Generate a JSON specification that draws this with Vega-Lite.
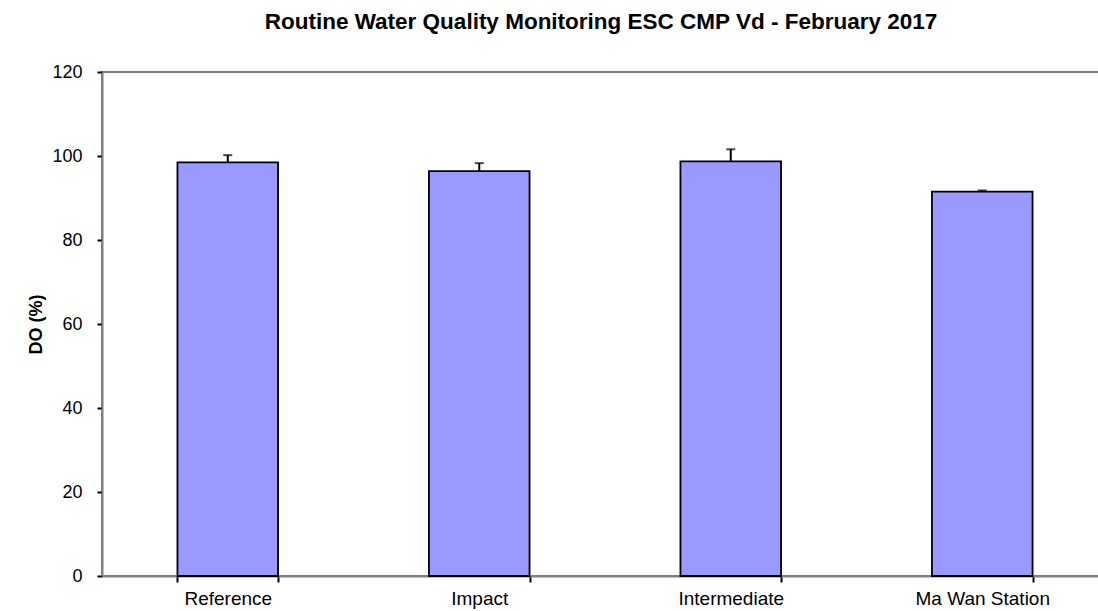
{
  "$schema": "https://vega.github.io/schema/vega-lite/v6.json",
  "autosize": "none",
  "padding": {"left": 102, "top": 72, "right": 0, "bottom": 35},
  "width": 1006,
  "height": 504,
  "background": "white",
  "config": {
    "font": "Liberation Sans",
    "view": {"stroke": "#808080", "strokeWidth": 2},
    "axis": {"grid": false, "labelFont": "Liberation Sans", "titleFont": "Liberation Sans"}
  },
  "title": {
    "text": "Routine Water Quality Monitoring ESC CMP Vd - February 2017",
    "fontSize": 22.5,
    "fontWeight": "bold",
    "font": "Liberation Sans",
    "color": "black",
    "offset": 30,
    "dx": -4
  },
  "data": {
    "values": [
      {"station": "Reference", "do": 98.5, "hi": 100.2},
      {"station": "Impact", "do": 96.4, "hi": 98.3},
      {"station": "Intermediate", "do": 98.7, "hi": 101.6},
      {"station": "Ma Wan Station", "do": 91.5, "hi": 91.8}
    ]
  },
  "encoding": {
    "x": {
      "field": "station",
      "type": "nominal",
      "sort": null,
      "scale": {"paddingInner": 0.6, "paddingOuter": 0.3},
      "axis": {
        "title": null,
        "labelAngle": 0,
        "labelFontSize": 19,
        "labelColor": "black",
        "labelPadding": 7,
        "tickBand": "extent",
        "tickSize": 6,
        "tickColor": "black",
        "tickWidth": 2,
        "domainColor": "#808080",
        "domainWidth": 2
      }
    }
  },
  "layer": [
    {
      "mark": {"type": "bar", "fill": "#9999FF", "stroke": "black", "strokeWidth": 1.8},
      "encoding": {
        "y": {
          "field": "do",
          "type": "quantitative",
          "scale": {"domain": [0, 120], "nice": false},
          "axis": {
            "title": "DO (%)",
            "titleFontSize": 18,
            "titleFontWeight": "bold",
            "titleColor": "black",
            "titlePadding": 6,
            "values": [0, 20, 40, 60, 80, 100, 120],
            "labelFontSize": 18,
            "labelColor": "black",
            "labelPadding": 15,
            "tickSize": 5,
            "tickColor": "black",
            "tickWidth": 2,
            "domainColor": "#808080",
            "domainWidth": 2
          }
        }
      }
    },
    {
      "mark": {"type": "rule", "color": "black", "strokeWidth": 2},
      "encoding": {
        "y": {"field": "do", "type": "quantitative"},
        "y2": {"field": "hi"}
      }
    },
    {
      "mark": {"type": "tick", "color": "black", "size": 9, "thickness": 2},
      "encoding": {
        "y": {"field": "hi", "type": "quantitative"}
      }
    }
  ]
}
